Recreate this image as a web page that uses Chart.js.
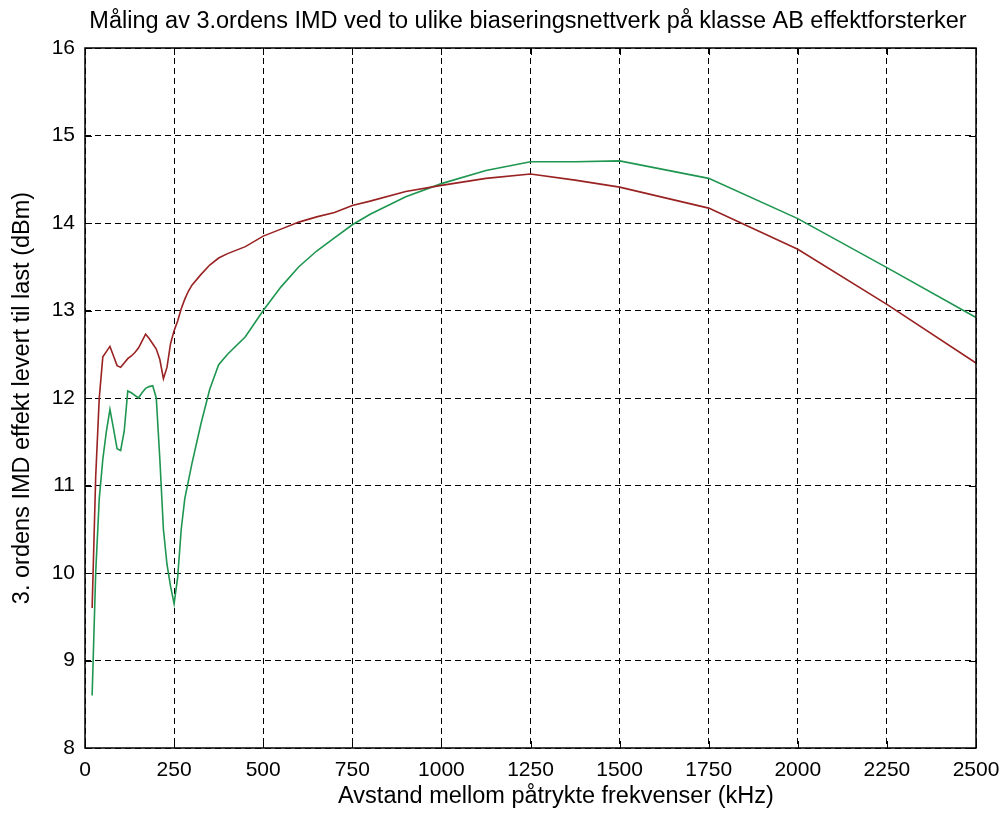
<!DOCTYPE html>
<html>
<head>
<meta charset="utf-8">
<script src="https://cdn.jsdelivr.net/npm/chart.js@4/dist/chart.umd.min.js"></script>
<style>
  html, body { margin: 0; padding: 0; background: #fff; }
  #imdChart { display: block; }
</style>
</head>
<body>
<canvas id="imdChart" width="1003" height="815"></canvas>
<script>
// frequency spacing (kHz)
const freqs = [20, 30, 40, 50, 60, 70, 80, 90, 100, 110, 120, 130, 140, 150, 160, 170, 180, 190, 200,
    210, 220, 230, 240, 250, 260, 270, 280, 290, 300, 325, 350, 375, 400, 450, 500, 550, 600, 650,
    700, 750, 800, 900, 1000, 1125, 1250, 1375, 1500, 1750, 2000, 2250, 2500];

// biasing network 1 (red)
const imdRed = [9.6, 11.1, 12.0, 12.47, 12.53, 12.59, 12.48, 12.37, 12.35, 12.4, 12.45, 12.48, 12.52, 12.57, 12.65, 12.73, 12.68, 12.62, 12.56,
    12.44, 12.22, 12.35, 12.62, 12.77, 12.88, 13.02, 13.13, 13.22, 13.29, 13.41, 13.52, 13.6, 13.65, 13.73, 13.85, 13.93, 14.01, 14.07,
    14.12, 14.2, 14.25, 14.36, 14.43, 14.51, 14.56, 14.49, 14.41, 14.17, 13.7, 13.07, 12.4];

// biasing network 2 (green)
const imdGreen = [8.6, 10.0, 10.85, 11.3, 11.62, 11.87, 11.65, 11.42, 11.4, 11.62, 12.08, 12.06, 12.03, 12.0, 12.06, 12.11, 12.13, 12.14, 12.0,
    11.3, 10.5, 10.1, 9.85, 9.65, 9.95, 10.5, 10.85, 11.05, 11.25, 11.7, 12.1, 12.38, 12.5, 12.7, 13.0, 13.27, 13.5, 13.68,
    13.83, 13.98, 14.1, 14.3, 14.45, 14.6, 14.7, 14.7, 14.71, 14.51, 14.05, 13.49, 12.92];

const xTicks = [0, 250, 500, 750, 1000, 1250, 1500, 1750, 2000, 2250, 2500];
const yTicks = [8, 9, 10, 11, 12, 13, 14, 15, 16];

const titleText = "Måling av 3.ordens IMD ved to ulike biaseringsnettverk på klasse AB effektforsterker";
const xTitle = "Avstand mellom påtrykte frekvenser (kHz)";
const yTitle = "3. ordens IMD effekt levert til last (dBm)";

const fontFamily = "'Liberation Sans', Arial, Helvetica, sans-serif";
const titleFont = "23.5px " + fontFamily;

// box with inward tick marks (matlab style) + title texts
const boxPlugin = {
    id: "boxTicks",
    afterDatasetsDraw(chart) {
        const ctx = chart.ctx;
        const a = chart.chartArea;
        const xs = chart.scales.x;
        const ys = chart.scales.y;
        const len = 7;
        ctx.save();
        ctx.strokeStyle = "#000";
        ctx.lineWidth = 1.5;
        ctx.setLineDash([]);
        ctx.strokeRect(a.left, a.top, a.right - a.left, a.bottom - a.top);
        ctx.lineWidth = 1;
        ctx.beginPath();
        xTicks.forEach(v => {
            const px = Math.round(xs.getPixelForValue(v)) + 0.5;
            ctx.moveTo(px, a.bottom); ctx.lineTo(px, a.bottom - len);
            ctx.moveTo(px, a.top); ctx.lineTo(px, a.top + len);
        });
        yTicks.forEach(v => {
            const py = Math.round(ys.getPixelForValue(v)) + 0.5;
            ctx.moveTo(a.left, py); ctx.lineTo(a.left + len, py);
            ctx.moveTo(a.right, py); ctx.lineTo(a.right - len, py);
        });
        ctx.stroke();

        ctx.fillStyle = "#000";
        ctx.font = titleFont;
        ctx.textAlign = "center";
        ctx.textBaseline = "middle";
        ctx.fillText(titleText, 528, 22);
        ctx.fillText(xTitle, 556, 797);
        ctx.translate(23, (a.top + a.bottom) / 2);
        ctx.rotate(-Math.PI / 2);
        ctx.fillText(yTitle, 0, 0);
        ctx.restore();
    }
};

const ctx = document.getElementById("imdChart").getContext("2d");
const imdChart = new Chart(ctx, {
    type: "line",
    data: {
        datasets: [
            {
                label: "Biaseringsnettverk 1",
                data: freqs.map((f, i) => ({ x: f, y: imdRed[i] })),
                borderColor: "#992222",
                borderWidth: 1.6,
                pointRadius: 0,
                tension: 0,
            },
            {
                label: "Biaseringsnettverk 2",
                data: freqs.map((f, i) => ({ x: f, y: imdGreen[i] })),
                borderColor: "#1e9650",
                borderWidth: 1.6,
                pointRadius: 0,
                tension: 0,
            },
        ],
    },
    options: {
        responsive: false,
        animation: false,
        layout: { padding: { left: 0, right: 27, top: 48, bottom: 0 } },
        plugins: {
            legend: { display: false },
            tooltip: { enabled: false },
            title: { display: false },
        },
        scales: {
            x: {
                type: "linear",
                min: 0,
                max: 2500,
                afterFit: s => { s.height = 67; s.paddingLeft = 0; s.paddingRight = 0; },
                afterBuildTicks: s => { s.ticks = xTicks.map(v => ({ value: v })); },
                ticks: {
                    color: "#000", padding: 10, maxRotation: 0,
                    font: { family: fontFamily, size: 21 },
                    callback: v => String(v),
                },
                grid: { color: "#000", drawTicks: false, lineWidth: 1 },
                border: { display: false, dash: [6, 4] },
            },
            y: {
                min: 8,
                max: 16,
                afterFit: s => { s.width = 85; s.paddingTop = 0; s.paddingBottom = 0; },
                afterBuildTicks: s => { s.ticks = yTicks.map(v => ({ value: v })); },
                ticks: {
                    color: "#000", padding: 10,
                    font: { family: fontFamily, size: 21 },
                    callback: v => String(v),
                },
                grid: { color: "#000", drawTicks: false, lineWidth: 1 },
                border: { display: false, dash: [6, 4] },
            },
        },
    },
    plugins: [boxPlugin],
});
</script>
</body>
</html>
